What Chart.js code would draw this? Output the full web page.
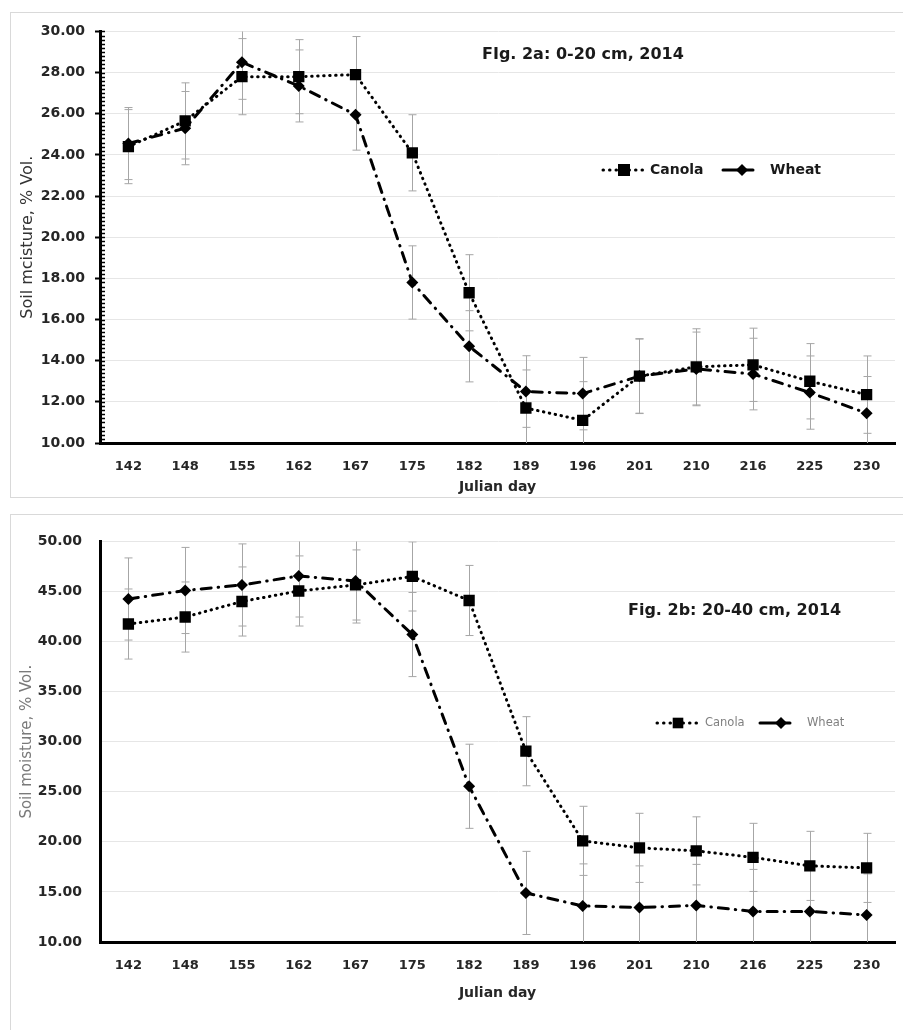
<!DOCTYPE html>
<html>
<head>
<meta charset="utf-8">
<script src="https://cdn.jsdelivr.net/npm/chart.js@4.4.1/dist/chart.umd.min.js"></script>
<style>
  html, body { margin: 0; padding: 0; background: #fff; overflow: hidden; }
  .box { position: absolute; left: 10px; width: 905px; border: 1px solid #d9d9d9; }
  #box1 { top: 12px; height: 484px; }
  #box2 { top: 514px; height: 530px; }
  canvas { display: block; }
</style>
</head>
<body>
<div class="box" id="box1"><canvas id="c1" width="892" height="484"></canvas></div>
<div class="box" id="box2"><canvas id="c2" width="892" height="515"></canvas></div>
<script>
// ── data ──
const days = ['142', '148', '155', '162', '167', '175', '182', '189', '196', '201', '210', '216', '225', '230'];

// Fig. 2a, 0-20 cm
const canola0_20    = [24.4, 25.65, 27.8, 27.8, 27.9, 24.1, 17.3, 11.7, 11.1, 13.25, 13.7, 13.8, 13.0, 12.35];
const wheat0_20     = [24.55, 25.3, 28.5, 27.35, 25.95, 17.8, 14.7, 12.5, 12.4, 13.25, 13.6, 13.35, 12.45, 11.45];
const canola0_20Err = [1.8, 1.85, 1.85, 1.8, 1.85, 1.85, 1.85, 1.85, 1.88, 1.82, 1.85, 1.78, 1.83, 1.88];
const wheat0_20Err  = [1.75, 1.78, 1.8, 1.75, 1.72, 1.78, 1.73, 1.74, 1.76, 1.8, 1.79, 1.74, 1.78, 1.78];

// Fig. 2b, 20-40 cm
const canola20_40    = [41.75, 42.45, 44.0, 45.05, 45.65, 46.5, 44.1, 29.05, 20.1, 19.4, 19.1, 18.45, 17.6, 17.4];
const wheat20_40     = [44.25, 45.1, 45.65, 46.55, 46.05, 40.7, 25.55, 14.9, 13.6, 13.45, 13.65, 13.05, 13.05, 12.7];
const canola20_40Err = [3.5, 3.5, 3.45, 3.5, 3.5, 3.45, 3.5, 3.45, 3.45, 3.45, 3.4, 3.4, 3.45, 3.45];
const wheat20_40Err  = [4.1, 4.3, 4.1, 4.1, 4.2, 4.2, 4.2, 4.15, 4.2, 4.15, 4.1, 4.2, 4.1, 4.1];

const FONT = "'DejaVu Sans', sans-serif";

// ── error bars drawn under the lines ──
const errorBars = {
  id: 'errorBars',
  beforeDatasetsDraw(chart, args, opts) {
    const { ctx, chartArea: a, scales: { y } } = chart;
    ctx.save();
    ctx.beginPath();
    ctx.rect(a.left, a.top, a.right - a.left, a.bottom - a.top);
    ctx.clip();
    ctx.strokeStyle = opts.color || '#a6a6a6';
    ctx.lineWidth = 1;
    (opts.errors || []).forEach((errs, di) => {
      const meta = chart.getDatasetMeta(di);
      const vals = chart.data.datasets[di].data;
      errs.forEach((e, i) => {
        const px = Math.round(meta.data[i].x) + 0.5;
        const yt = y.getPixelForValue(vals[i] + e);
        const yb = y.getPixelForValue(vals[i] - e);
        ctx.beginPath();
        ctx.moveTo(px, yt); ctx.lineTo(px, yb);
        ctx.moveTo(px - 4, yt); ctx.lineTo(px + 4, yt);
        ctx.moveTo(px - 4, yb); ctx.lineTo(px + 4, yb);
        ctx.stroke();
      });
    });
    ctx.restore();
  }
};

// ── minor tick marks on the value axis ──
const minorTicks = {
  id: 'minorTicks',
  afterDraw(chart, args, opts) {
    if (!opts.step) return;
    const { ctx, chartArea: a, scales: { y } } = chart;
    ctx.save();
    ctx.strokeStyle = '#000';
    ctx.lineWidth = 1.5;
    ctx.beginPath();
    for (let v = y.min; v <= y.max + 1e-6; v += opts.step) {
      const py = Math.round(y.getPixelForValue(v)) + 0.5;
      ctx.moveTo(a.left, py); ctx.lineTo(a.left + opts.length, py);
    }
    ctx.stroke();
    ctx.restore();
  }
};

function drawMarker(ctx, style, x, y, r) {
  ctx.beginPath();
  if (style === 'rect') {
    const s = r * Math.SQRT2;
    ctx.rect(x - s / 2, y - s / 2, s, s);
  } else {
    ctx.moveTo(x - r, y); ctx.lineTo(x, y - r); ctx.lineTo(x + r, y); ctx.lineTo(x, y + r);
    ctx.closePath();
  }
  ctx.fill();
}

// ── in-plot figure caption and legend ──
const figText = {
  id: 'figText',
  afterDraw(chart, args, o) {
    const ctx = chart.ctx;
    ctx.save();
    ctx.textBaseline = 'middle';
    ctx.textAlign = 'left';
    ctx.fillStyle = '#1a1a1a';
    ctx.font = o.titleFont;
    ctx.fillText(o.title, o.titleX, o.titleY);

    o.items.forEach((it, i) => {
      const ds = chart.data.datasets[i];
      ctx.strokeStyle = '#000';
      ctx.lineWidth = it.lineWidth;
      ctx.lineCap = 'round';
      ctx.setLineDash(it.dash);
      ctx.beginPath();
      ctx.moveTo(it.x0, o.y); ctx.lineTo(it.x1, o.y);
      ctx.stroke();
      ctx.setLineDash([]);
      ctx.fillStyle = '#000';
      drawMarker(ctx, ds.pointStyle, it.mx, o.y, it.r);
      ctx.fillStyle = o.color;
      ctx.font = o.font;
      ctx.fillText(ds.label, it.tx, o.y);
    });
    ctx.restore();
  }
};

function series(label, data, kind, r) {
  const canola = kind === 'canola';
  return {
    label,
    data,
    borderColor: '#000',
    backgroundColor: '#000',
    borderWidth: 3,
    borderDash: canola ? [0.5, 5.5] : [10, 7, 0.5, 7],
    borderCapStyle: 'round',
    borderJoinStyle: 'round',
    pointStyle: canola ? 'rect' : 'rectRot',
    pointRadius: r,
    pointBorderWidth: 0,
    pointBackgroundColor: '#000',
    tension: 0,
    fill: false
  };
}

function makeChart(id, cfg) {
  return new Chart(document.getElementById(id), {
    type: 'line',
    data: {
      labels: days,
      datasets: [
        series('Canola', cfg.canola, 'canola', 8),
        series('Wheat', cfg.wheat, 'wheat', 6)
      ]
    },
    plugins: [errorBars, minorTicks, figText],
    options: {
      responsive: false,
      animation: false,
      layout: { padding: { top: cfg.padTop, right: 5, left: 0, bottom: 0 } },
      plugins: {
        legend: { display: false },
        tooltip: { enabled: false },
        errorBars: { errors: [cfg.canolaErr, cfg.wheatErr] },
        minorTicks: cfg.minor,
        figText: cfg.text
      },
      scales: {
        x: {
          type: 'category',
          offset: true,
          grid: { display: false, drawTicks: false },
          border: { color: '#000', width: 3 },
          ticks: { color: '#262626', font: { family: FONT, size: 13, weight: 'bold' }, padding: 16, maxRotation: 0 },
          title: {
            display: true, text: 'Julian day', color: '#262626',
            font: { family: FONT, size: 14, weight: 'bold' },
            padding: { top: 0, bottom: cfg.xTitlePad }
          },
          afterFit: s => { s.height = cfg.xHeight; }
        },
        y: {
          min: cfg.min, max: cfg.max,
          grid: { color: '#e6e6e6', lineWidth: 1, drawTicks: cfg.yTicks, tickLength: 5, tickColor: '#000', tickWidth: 2 },
          border: { color: '#000', width: 3 },
          ticks: {
            stepSize: cfg.step, color: '#262626',
            font: { family: FONT, size: 14, weight: 'bold' },
            padding: cfg.yLabelPad,
            callback: v => Number(v).toFixed(2)
          },
          title: {
            display: true, text: cfg.yTitle, color: cfg.yTitleColor,
            font: { family: FONT, size: cfg.yTitleSize },
            padding: { top: 7, bottom: 0 }
          },
          afterFit: s => { s.width = 89; }
        }
      }
    }
  });
}

makeChart('c1', {
  canola: canola0_20, wheat: wheat0_20,
  canolaErr: canola0_20Err, wheatErr: wheat0_20Err,
  min: 10, max: 30, step: 2, padTop: 8, xHeight: 54, xTitlePad: 1,
  yTicks: true, yLabelPad: 10,
  yTitle: 'Soil mcisture, % Vol.', yTitleColor: '#333', yTitleSize: 16,
  minor: { step: 0.2, length: 5 },
  text: {
    title: 'FIg. 2a: 0-20 cm, 2014', titleX: 471, titleY: 42,
    titleFont: "bold 16px " + FONT,
    y: 157, font: "bold 14px " + FONT, color: '#1a1a1a',
    items: [
      { x0: 592, x1: 634, mx: 613, r: 8.5, tx: 639, dash: [0.5, 6], lineWidth: 3 },
      { x0: 712, x1: 742, mx: 731, r: 6, tx: 759, dash: [], lineWidth: 3 }
    ]
  }
});

makeChart('c2', {
  canola: canola20_40, wheat: wheat20_40,
  canolaErr: canola20_40Err, wheatErr: wheat20_40Err,
  min: 10, max: 50, step: 5, padTop: 10, xHeight: 88, xTitlePad: 28,
  yTicks: false, yLabelPad: 18,
  yTitle: 'Soil moisture, % Vol.', yTitleColor: '#7a7a7a', yTitleSize: 15,
  minor: {},
  text: {
    title: 'Fig. 2b: 20-40 cm, 2014', titleX: 617, titleY: 96,
    titleFont: "bold 16px " + FONT,
    y: 208, font: "11.5px " + FONT, color: '#808080',
    items: [
      { x0: 646, x1: 689, mx: 667, r: 7.5, tx: 694, dash: [0.5, 6], lineWidth: 3 },
      { x0: 749, x1: 779, mx: 770, r: 6, tx: 796, dash: [], lineWidth: 3 }
    ]
  }
});
</script>
</body>
</html>
